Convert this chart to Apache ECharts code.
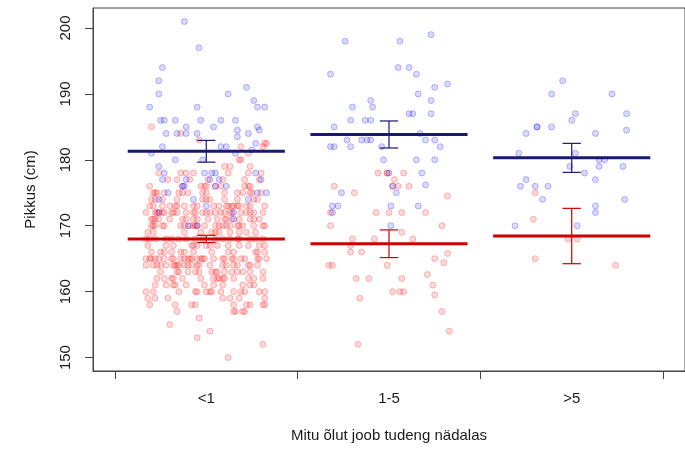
<!DOCTYPE html>
<html>
<head>
<meta charset="utf-8">
<script src="https://cdn.jsdelivr.net/npm/echarts@6/dist/echarts.min.js"></script>
<style>
  html, body { margin: 0; padding: 0; background: #fff; }
  #chart { width: 685px; height: 450px; }
</style>
</head>
<body>
<div id="chart"></div>
<script>
// grupid (mitu õlut nädalas)
const groups = ["<1", "1-5", ">5"];
const xTicks = [0.5, 1.5, 2.5, 3.5];
const yTicks = [150, 160, 170, 180, 190, 200];

// keskmised ja standardvead
const meanMale = [181.3, 183.85, 180.3];
const seMale = [1.65, 2.05, 2.2];
const meanFemale = [168.0, 167.27, 168.44];
const seFemale = [0.55, 2.1, 4.2];

// mehed: [x (jitter), pikkus]
const maleG1 = [
  [0.88, 201], [0.96, 197], [0.76, 194], [0.74, 192], [0.74, 190], [1.12, 190], [1.22, 191],
  [1.26, 189], [0.69, 188], [0.95, 188], [1.28, 188], [1.32, 188],
  [0.75, 186], [0.77, 186], [0.83, 186], [0.97, 186], [1.08, 186], [1.16, 186],
  [0.89, 185], [1.04, 185], [1.28, 185], [1.17, 184.5], [1.29, 184.5], [1.17, 183.5], [1.23, 184],
  [0.78, 184], [0.84, 184], [0.89, 184], [0.95, 184], [1.27, 182.5],
  [0.76, 182], [1.08, 182], [1.11, 182], [1.25, 181.5], [0.70, 181], [1.16, 181],
  [0.83, 180], [0.98, 180], [0.74, 179],
  [0.77, 178], [0.99, 178], [1.03, 178], [1.05, 178], [1.27, 178],
  [0.76, 177], [0.89, 177], [1.02, 177], [1.07, 177], [1.30, 177],
  [0.87, 176], [0.88, 176], [1.05, 176], [1.11, 176],
  [0.79, 175], [1.28, 175], [1.33, 175], [0.74, 174], [0.93, 174], [1.23, 174],
  [1.00, 173], [0.74, 172], [1.15, 172], [1.15, 171], [0.90, 170], [0.95, 170]
];
const maleG2 = [
  [2.23, 199], [1.76, 198], [2.06, 198], [2.05, 194], [2.11, 194], [1.68, 193], [2.15, 193],
  [2.32, 191.5], [2.25, 191], [2.16, 190], [2.23, 189], [1.90, 189], [1.80, 188], [1.91, 188],
  [2.11, 187], [2.13, 187], [2.23, 187], [1.79, 186], [1.87, 186], [1.90, 186], [1.70, 185],
  [2.17, 184], [1.77, 183], [1.85, 183], [1.88, 183], [1.90, 183], [2.20, 183], [2.25, 183],
  [1.68, 182], [1.70, 182], [1.79, 182], [1.96, 182], [2.28, 182],
  [1.97, 180], [2.15, 180], [2.25, 180], [2.00, 178], [2.18, 178], [2.20, 176.2], [2.02, 176],
  [1.74, 175], [2.04, 175], [1.69, 173], [1.72, 173], [2.01, 173], [2.16, 173],
  [1.69, 172], [2.01, 170]
];
const maleG3 = [
  [2.95, 192], [2.89, 190], [3.22, 190], [3.02, 187], [3.30, 187], [3.00, 186],
  [2.81, 185], [2.81, 185], [2.89, 185], [2.75, 184], [3.13, 184], [3.30, 184.5],
  [2.71, 181], [3.02, 181], [3.15, 180], [3.18, 180], [2.99, 179], [3.15, 179], [3.28, 179],
  [3.07, 178], [2.75, 177], [3.13, 177], [2.72, 176], [2.80, 176], [2.87, 176],
  [2.84, 174], [3.29, 174], [3.13, 173], [3.13, 172], [2.69, 170], [3.03, 170]
];

// naised, grupp <1: [pikkus, x1, x2, ...]
const femaleRowsG1 = [
  [185, 0.70], [184, 0.86], [183, 0.96], [182.5, 1.32, 1.33], [182, 1.19, 1.31], [181, 1.23],
  [180, 1.18, 1.19], [179, 1.10, 1.13, 1.24],
  [178, 0.74, 0.86, 0.89, 0.93, 1.12, 1.23, 1.30],
  [177, 0.79, 0.84, 0.91, 1.01, 1.09, 1.21, 1.29],
  [176, 0.69, 0.87, 0.97, 0.99, 1.00, 1.05, 1.08, 1.21, 1.23, 1.24],
  [175, 0.71, 0.72, 0.73, 0.77, 0.85, 0.87, 0.90, 0.98, 1.00, 1.10, 1.17, 1.20, 1.24, 1.25, 1.30],
  [174, 0.70, 0.72, 0.76, 0.84, 0.98, 1.00, 1.02, 1.10, 1.17, 1.26, 1.28],
  [173, 0.69, 0.71, 0.76, 0.80, 0.83, 0.84, 0.88, 0.93, 0.95, 1.04, 1.07, 1.11, 1.12, 1.14, 1.15, 1.17, 1.18, 1.22, 1.24, 1.32],
  [172, 0.67, 0.72, 0.73, 0.74, 0.76, 0.77, 0.81, 0.82, 0.84, 0.89, 0.93, 0.94, 0.98, 1.00, 1.02, 1.05, 1.08, 1.10, 1.13, 1.14, 1.19, 1.22, 1.24, 1.26, 1.31],
  [171, 0.70, 0.71, 0.72, 0.74, 0.80, 0.87, 0.89, 0.93, 0.95, 1.01, 1.06, 1.10, 1.11, 1.14, 1.18, 1.24, 1.26, 1.29],
  [170, 0.70, 0.71, 0.72, 0.76, 0.77, 0.86, 0.88, 0.91, 0.93, 0.94, 0.95, 0.99, 1.05, 1.07, 1.09, 1.11, 1.13, 1.17, 1.18, 1.20, 1.26, 1.31, 1.32],
  [169, 0.68, 0.71, 0.88, 0.97, 1.03, 1.05, 1.07, 1.13, 1.18, 1.22, 1.27],
  [168, 0.67, 0.69, 0.72, 0.78, 0.81, 0.85, 0.89, 0.94, 0.98, 1.05, 1.09, 1.13, 1.17, 1.18, 1.24, 1.27, 1.31],
  [167, 0.68, 0.78, 0.82, 0.92, 0.93, 0.95, 1.00, 1.02, 1.06, 1.12, 1.18, 1.23, 1.29, 1.32],
  [166, 0.70, 0.75, 0.77, 0.81, 0.86, 0.88, 0.93, 1.03, 1.12, 1.15, 1.27, 1.28, 1.32],
  [165, 0.67, 0.69, 0.70, 0.72, 0.74, 0.77, 0.81, 0.82, 0.86, 0.88, 0.90, 0.91, 0.92, 0.95, 0.97, 0.98, 0.99, 1.04, 1.09, 1.10, 1.14, 1.15, 1.19, 1.21, 1.28, 1.29, 1.33],
  [164, 0.67, 0.71, 0.73, 0.75, 0.78, 0.82, 0.83, 0.84, 0.85, 0.88, 0.90, 0.92, 0.95, 0.96, 1.02, 1.09, 1.11, 1.15, 1.17, 1.23, 1.24, 1.28],
  [163, 0.75, 0.84, 0.85, 0.90, 0.94, 0.96, 1.03, 1.05, 1.06, 1.10, 1.14, 1.17, 1.20, 1.24, 1.31],
  [162, 0.73, 0.77, 0.81, 0.82, 0.87, 0.97, 1.04, 1.06, 1.07, 1.09, 1.10, 1.15, 1.23, 1.26, 1.31],
  [161, 0.72, 0.78, 0.82, 0.83, 0.89, 0.99, 1.04, 1.09, 1.20, 1.24, 1.26],
  [160, 0.67, 0.71, 0.85, 0.94, 0.95, 1.00, 1.02, 1.03, 1.08, 1.15, 1.19, 1.21, 1.29, 1.32],
  [159, 0.68, 0.72, 0.79, 1.09, 1.13, 1.18, 1.32],
  [158, 0.69, 0.83, 0.92, 0.94, 1.15, 1.22, 1.24, 1.31, 1.32],
  [157, 0.84, 1.15, 1.16, 1.20, 1.21],
  [156, 0.96], [155, 0.80], [154, 1.02], [153, 0.95], [152, 1.31], [150, 1.12]
];
const femaleG2 = [
  [1.94, 178], [1.99, 178], [1.99, 178], [2.08, 178], [2.03, 177], [1.70, 176], [2.02, 176],
  [2.05, 176], [2.11, 176], [1.81, 175], [2.32, 174.5], [1.68, 172], [1.93, 172], [2.00, 172],
  [2.07, 172], [2.20, 172], [1.68, 170], [2.29, 170], [2.07, 169], [1.80, 168], [1.92, 168],
  [2.13, 168], [1.79, 167], [1.79, 166], [1.85, 166], [2.32, 165.8], [2.25, 165], [2.30, 164.4],
  [1.67, 164], [1.69, 164], [1.99, 164], [2.21, 162.6], [1.82, 162], [1.89, 162], [2.07, 162],
  [2.24, 161], [2.02, 160], [2.06, 160], [2.08, 160], [2.25, 159.5], [1.84, 159], [2.29, 157],
  [2.33, 154], [1.83, 152]
];
const femaleG3 = [
  [2.80, 175], [2.79, 171], [2.98, 168], [3.03, 168], [2.80, 165], [3.24, 164]
];

const femaleG1 = [];
femaleRowsG1.forEach(row => {
  row.slice(1).forEach(x => femaleG1.push([x, row[0]]));
});
const femalePoints = femaleG1.concat(femaleG2, femaleG3);
const malePoints = maleG1.concat(maleG2, maleG3);

const chart = echarts.init(document.getElementById("chart"));
const textColor = "#1a1a1a";
const frameColor = "#444";
const font = "Liberation Sans, Arial, sans-serif";

function meanSeries(means, ses, color, width) {
  return {
    type: "custom",
    z: 10,
    clip: false,
    data: means.map((m, i) => [i + 1, m, ses[i]]),
    encode: { x: 0, y: 1 },
    renderItem: function (params, api) {
      const x = api.value(0), m = api.value(1), s = api.value(2);
      const a = api.coord([x - 0.43, m]), b = api.coord([x + 0.43, m]);
      const t = api.coord([x, m + s]), d = api.coord([x, m - s]);
      const tl = api.coord([x - 0.05, m + s]), tr = api.coord([x + 0.05, m + s]);
      const dl = api.coord([x - 0.05, m - s]), dr = api.coord([x + 0.05, m - s]);
      const thin = { stroke: color, lineWidth: 1.2 };
      return {
        type: "group",
        children: [
          { type: "line", shape: { x1: a[0], y1: a[1], x2: b[0], y2: b[1] }, style: { stroke: color, lineWidth: width } },
          { type: "line", shape: { x1: t[0], y1: t[1], x2: d[0], y2: d[1] }, style: thin },
          { type: "line", shape: { x1: tl[0], y1: tl[1], x2: tr[0], y2: tr[1] }, style: thin },
          { type: "line", shape: { x1: dl[0], y1: dl[1], x2: dr[0], y2: dr[1] }, style: thin }
        ]
      };
    }
  };
}

const option = {
  animation: false,
  backgroundColor: "#fff",
  textStyle: { fontFamily: font },
  grid: {
    left: 93, top: 8, width: 598, height: 363,
    show: true, borderColor: frameColor, borderWidth: 1
  },
  xAxis: {
    type: "value",
    min: 0.38, max: 3.62,
    name: "Mitu õlut joob tudeng nädalas",
    nameLocation: "middle",
    nameGap: 57,
    nameTextStyle: { color: textColor, fontSize: 15, fontFamily: font },
    axisLine: { show: true, onZero: false, lineStyle: { color: frameColor } },
    axisTick: { show: true, length: 8, customValues: xTicks, lineStyle: { color: frameColor } },
    axisLabel: {
      customValues: [1, 2, 3],
      margin: 20,
      color: textColor, fontSize: 15, fontFamily: font,
      formatter: v => groups[Math.round(v) - 1]
    },
    splitLine: { show: false }
  },
  yAxis: {
    type: "value",
    min: 147.96, max: 203.04,
    name: "Pikkus (cm)",
    nameLocation: "middle",
    nameGap: 55,
    nameRotate: 90,
    nameTextStyle: { color: textColor, fontSize: 15, fontFamily: font },
    axisLine: { show: true, onZero: false, lineStyle: { color: frameColor } },
    axisTick: { show: true, length: 8, customValues: yTicks, lineStyle: { color: frameColor } },
    axisLabel: {
      customValues: yTicks,
      rotate: 90,
      margin: 20,
      color: textColor, fontSize: 15, fontFamily: font
    },
    splitLine: { show: false }
  },
  series: [
    {
      name: "naised",
      type: "scatter",
      symbolSize: 6,
      data: femalePoints,
      itemStyle: { color: "rgba(255,0,0,0.18)", borderColor: "rgba(255,0,0,0.32)", borderWidth: 1 }
    },
    {
      name: "mehed",
      type: "scatter",
      symbolSize: 6,
      data: malePoints,
      itemStyle: { color: "rgba(0,0,255,0.18)", borderColor: "rgba(0,0,255,0.32)", borderWidth: 1 }
    },
    meanSeries(meanMale, seMale, "#191970", 3),
    meanSeries(meanFemale, seFemale, "#CD0000", 3)
  ]
};

chart.setOption(option);
</script>
</body>
</html>
